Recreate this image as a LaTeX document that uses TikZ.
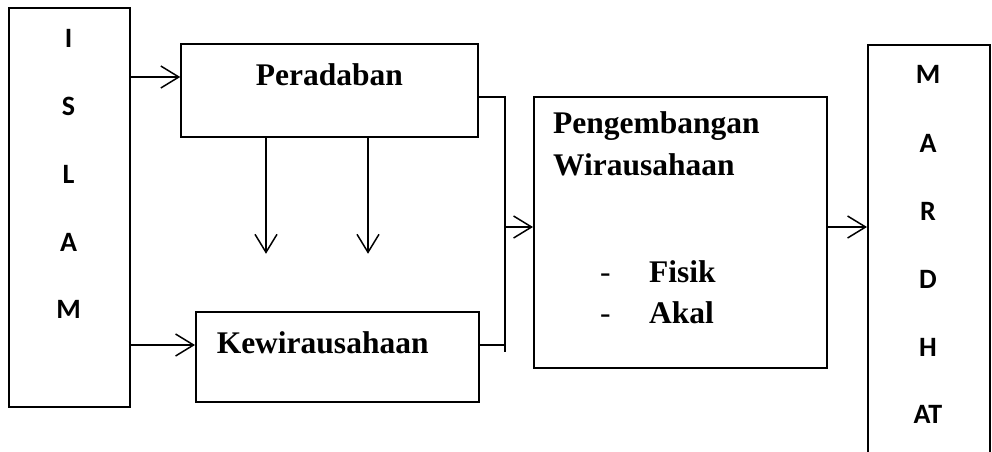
\documentclass[tikz,border=0pt]{standalone}
\usepackage{fontspec}
\setmainfont{Liberation Serif}
\newfontfamily\letterfont{Carlito}[BoldFont={Carlito Bold}]
\usetikzlibrary{arrows.meta, calc, positioning}
\tikzset{
    box/.style = {rectangle, draw, line width=1.5pt, inner sep=0pt},
    word/.style = {font=\fontsize{31.5}{42}\selectfont\bfseries, inner sep=0pt},
    letter/.style = {font=\fontsize{28}{34}\selectfont\letterfont\bfseries, anchor=base, inner sep=0pt},
    link/.style = {line width=1.5pt},
    flow/.style = {link, -{Straight Barb[length=18pt, width=22pt]}}
    }

\begin{document}
\begin{tikzpicture}[x=1pt, y=-1pt]
    \useasboundingbox (0,0) rectangle (992,451);
    \clip (0,0) rectangle (992,451);

    % boxes
    \node[box, minimum width=121pt, minimum height=399pt, anchor=north west] (islam) at (8,7) {};
    \node[box, word, text height=41pt, text depth=52pt, minimum width=297pt, anchor=base] (peradaban) at (329.5,85) {Peradaban};
    \node[box, word, text height=41pt, text depth=49pt, inner xsep=21pt, text width=241pt, align=left, anchor=base west] (kewirausahaan) at (195,353) {Kewirausahaan};
    \node[box, minimum width=293pt, minimum height=271pt, anchor=north west] (pengembangan) at (533,96) {};
    \node[box, minimum width=122pt, minimum height=430pt, anchor=north west] (mardhat) at (867,44) {};

    % letters
    \foreach \ch/\y in {I/47, S/115, L/183, A/251, M/318}
        \node[letter] (islam\y) at (68.5,\y) {\ch};
    \foreach \ch/\y in {M/83, A/152, R/220, D/288, H/356, AT/423}
        \node[letter] (mardhat\y) at (928,\y) {\ch};

    % text in the middle box
    \node[word, anchor=base west] (judul1) at (553,133) {Pengembangan};
    \node[word, anchor=base west] (judul2) at (553,175) {Wirausahaan};
    \node[word, anchor=base west] (fisik) at (649,282) {Fisik};
    \node[word, anchor=base west] (akal) at (649,323) {Akal};
    \node[word, font=\fontsize{31.5}{42}\selectfont, anchor=base west] (dash1) at (600,282) {-};
    \node[word, font=\fontsize{31.5}{42}\selectfont, anchor=base west] (dash2) at (600,323) {-};

    % connectors
    \coordinate (junction) at (505,227);
    \draw[flow] (islam.east |- 0,77) -- (peradaban.west |- 0,77);
    \draw[flow] (islam.east |- 0,345) -- (kewirausahaan.west |- 0,345);
    \draw[flow] (peradaban.south -| 266,0) -- ++(0,116);
    \draw[flow] (peradaban.south -| 368,0) -- ++(0,116);
    \draw[link] (peradaban.east |- 0,97) -| (505,352);
    \draw[link] (kewirausahaan.east |- 0,345) -- (505,345);
    \draw[flow] (junction) -- (pengembangan.west |- junction);
    \draw[flow] (pengembangan.east |- junction) -- (mardhat.west |- junction);
\end{tikzpicture}
\end{document}
